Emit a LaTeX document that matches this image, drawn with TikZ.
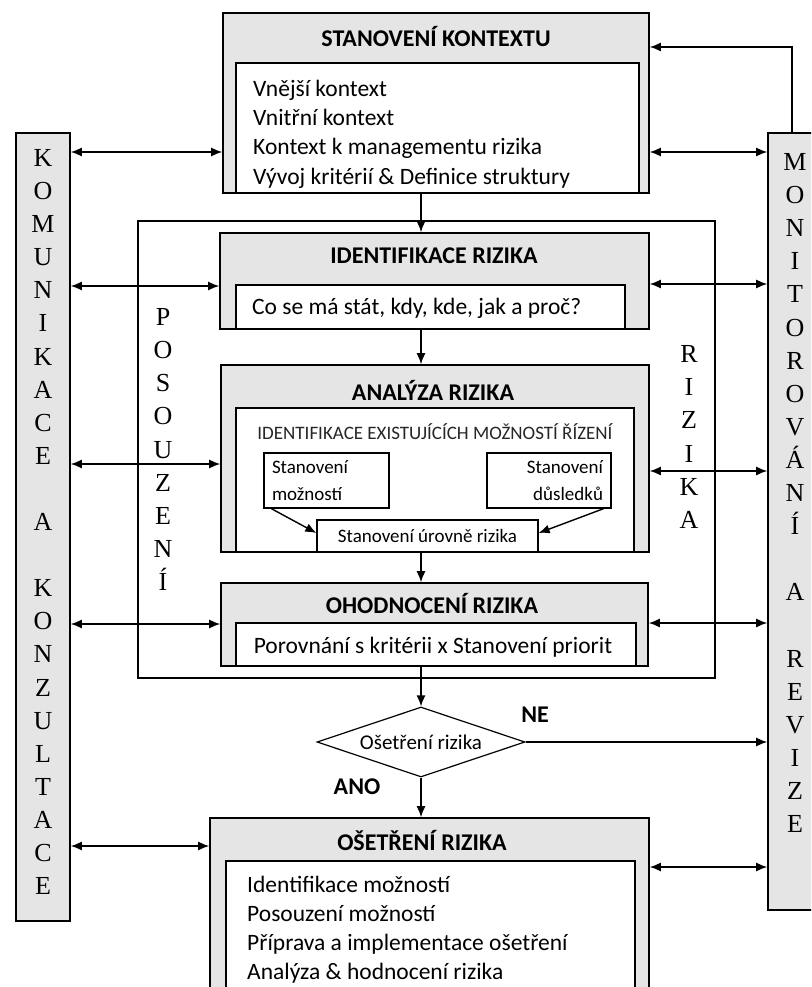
\documentclass[tikz,border=0pt]{standalone}
\usepackage{fontspec}
\setmainfont{Carlito}
\newfontfamily\letterfont{Liberation Serif}
\usetikzlibrary{arrows.meta,shapes.geometric}

\begin{document}
\begin{tikzpicture}[x=1pt, y=-1pt]
    \tikzstyle{every node}=[inner sep=0pt, font=\fontsize{23.5}{29.3}\selectfont]
    \tikzstyle{shell}=[draw, fill=gray!20, line width=1.6pt]
    \tikzstyle{pane}=[draw, fill=white, line width=1.6pt]
    \tikzstyle{items}=[anchor=west, align=left]
    \tikzstyle{hdr}=[font=\bfseries\fontsize{24}{28}\selectfont]
    \tikzstyle{small}=[draw, fill=white, line width=1.3pt, font=\fontsize{19}{27}\selectfont]
    \tikzstyle{strip}=[draw, fill=gray!20, line width=1.6pt, minimum width=54]
    \tikzstyle{letters}=[font=\letterfont\fontsize{26}{33.1}\selectfont, align=center]
    \tikzstyle{link}=[line width=1.4pt, -{Latex[length=11pt,width=9pt]}]
    \tikzstyle{both}=[line width=1.4pt, {Latex[length=11pt,width=9pt]}-{Latex[length=11pt,width=9pt]}]

    \useasboundingbox (0,0) rectangle (811,987);
    \clip (0,0) rectangle (811,987);

% posouzeni frame and side strips
    \node[draw, line width=1.4pt, minimum width=577, minimum height=457] (posouz) at (426.5,449.5) {};
    \node[letters] (posouztxt) at (163,449.5) {P\\O\\S\\O\\U\\Z\\E\\N\\Í};
    \node[letters] (rizikatxt) at (689,437) {R\\I\\Z\\I\\K\\A};
    \node[strip, minimum height=788] (kom) at (43,527) {};
    \node[letters] (komtxt) at (43,522) {K\\O\\M\\U\\N\\I\\K\\A\\C\\E\\[33.1pt]A\\[33.1pt]K\\O\\N\\Z\\U\\L\\T\\A\\C\\E};
    \node[strip, minimum height=777] (mon) at (795,521.5) {};
    \node[letters] (montxt) at (795,493) {M\\O\\N\\I\\T\\O\\R\\O\\V\\Á\\N\\Í\\[33.1pt]A\\[33.1pt]R\\E\\V\\I\\Z\\E};

% stanoveni kontextu
    \node[shell, minimum width=426, minimum height=180] (ctx) at (436,103) {};
    \node[hdr] (ctxttl) at (436,37) {STANOVENÍ KONTEXTU};
    \node[pane, minimum width=403, minimum height=130] (ctxin) at (437.5,128) {};
    \node[items] (ctxtxt) at (253,134) {Vnější kontext\\Vnitřní kontext\\Kontext k managementu rizika\\Vývoj kritérií \& Definice struktury};

% identifikace
    \node[shell, minimum width=429, minimum height=96] (ident) at (434.5,281) {};
    \node[hdr] (identttl) at (434,256) {IDENTIFIKACE RIZIKA};
    \node[pane, minimum width=389, minimum height=44] (identin) at (430.5,307) {};
    \node[items] (identtxt) at (252,308) {Co se má stát, kdy, kde, jak a proč?};

% analyza
    \node[shell, minimum width=428, minimum height=187] (anal) at (435,458.5) {};
    \node[hdr] (analttl) at (433,390) {ANALÝZA RIZIKA};
    \node[pane, minimum width=398, minimum height=144] (analin) at (435,480) {};
    \node[font=\fontsize{19}{22}\selectfont, text=black!85] (analhd) at (435,432) {IDENTIFIKACE EXISTUJÍCÍCH MOŽNOSTÍ ŘÍZENÍ};
    \node[small, align=left, inner xsep=8, text width=109, minimum height=55] (moz) at (326.5,480.5) {Stanovení\\možností};
    \node[small, align=right, inner xsep=8, text width=108, minimum height=55] (dus) at (549,480.5) {Stanovení\\důsledků};
    \node[small, minimum width=221, minimum height=32] (uroven) at (427.5,536) {Stanovení úrovně rizika};
    \draw[link] ([xshift=8pt]moz.south west) -- ([yshift=3pt]uroven.west);
    \draw[link] ([xshift=-8pt]dus.south east) -- ([yshift=3pt]uroven.east);

% ohodnoceni
    \node[shell, minimum width=427, minimum height=83] (ohod) at (434.5,624.5) {};
    \node[hdr] (ohodttl) at (432,603) {OHODNOCENÍ RIZIKA};
    \node[pane, minimum width=400, minimum height=43] (ohodin) at (436,644.5) {};
    \node (ohodtxt) at (433,647) {Porovnání s kritérii x Stanovení priorit};

% rozhodnuti a osetreni
    \node[draw, diamond, shape aspect=3, fill=white, line width=1.2pt, minimum width=208, minimum height=70, font=\fontsize{21}{24}\selectfont] (choice) at (421,742) {Ošetření rizika};
    \node[hdr] (ne) at (535,715) {NE};
    \node[hdr] (ano) at (357,787) {ANO};
    \node[shell, minimum width=439, minimum height=188] (osetr) at (429.5,912) {};
    \node[hdr] (osetrttl) at (422,840) {OŠETŘENÍ RIZIKA};
    \node[pane, minimum width=409, minimum height=140] (osetrin) at (430.5,931) {};
    \node[items, font=\fontsize{23.5}{29}\selectfont] (osetrtxt) at (247,930) {Identifikace možností\\Posouzení možností\\Příprava a implementace ošetření\\Analýza \& hodnocení rizika};

% flow
    \draw[link] (ctx.south -| choice) -- (ident.north -| choice);
    \draw[link] (ident.south -| choice) -- (anal.north -| choice);
    \draw[link] (uroven.south -| choice) -- (ohod.north -| choice);
    \draw[link] (ohod.south -| choice) -- (choice.north);
    \draw[link] (choice.south) -- (osetr.north -| choice);
    \draw[link] (choice.east) -- (mon.west |- choice);
    \draw[link] (mon.north -| 792,0) |- (ctx.east |- 0,47);

% komunikace a monitorovani
    \draw[both] (kom.east |- 0,152) -- (ctx.west |- 0,152);
    \draw[both] (kom.east |- 0,286) -- (ident.west |- 0,286);
    \draw[both] (kom.east |- 0,464) -- (anal.west |- 0,464);
    \draw[both] (kom.east |- 0,624) -- (ohod.west |- 0,624);
    \draw[both] (kom.east |- 0,846) -- (osetr.west |- 0,846);
    \draw[both] (mon.west |- 0,152) -- (ctx.east |- 0,152);
    \draw[both] (mon.west |- 0,284) -- (ident.east |- 0,284);
    \draw[both] (mon.west |- 0,471) -- (anal.east |- 0,471);
    \draw[both] (mon.west |- 0,623) -- (ohod.east |- 0,623);
    \draw[both] (mon.west |- 0,867) -- (osetr.east |- 0,867);

\end{tikzpicture}
\end{document}
